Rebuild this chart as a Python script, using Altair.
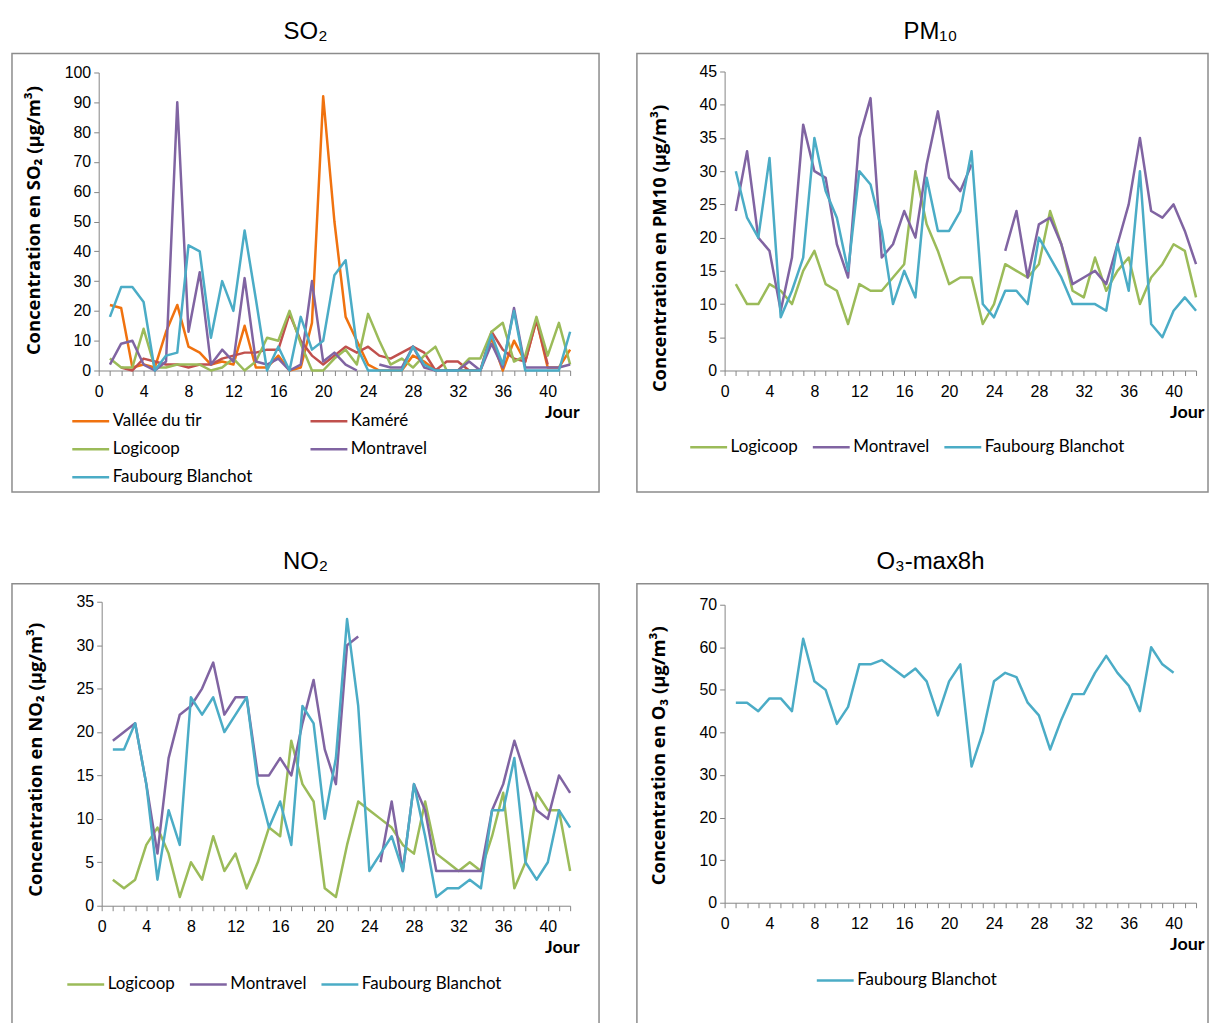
import altair as alt
import pandas as pd

days = list(range(1, 43))

# ---------------- SO2 ----------------
so2_stations = ["Vallée du tir", "Kaméré", "Logicoop", "Montravel", "Faubourg Blanchot"]
so2_vallee = [22, 21, 1, 2, 1, 13, 22, 8, 6, 2, 3, 2, 15, 1, 1, 5, 0, 1, 16, 92, 50, 18, 10, 2, 0,
              0, 0, 5, 3, 0, 0, 0, 0, 0, 11, 0, 10, 3, 17, 1, 1, 7]
so2_kamere = [None, 1, 0, 4, 3, 2, 2, 1, 2, 2, 4, 5, 6, 6, 7, 7, 19, 10, 5, 2, 5, 8, 6, 8, 5,
              4, 6, 8, 6, 0, 3, 3, 0, 0, 13, 7, 4, 3, 17, 2, None, None]
so2_logicoop = [4, 1, 1, 14, 1, 1, 2, 2, 2, 0, 1, 4, 0, 3, 11, 10, 20, 9, 0, 0, 4, 7, 2, 19, 10,
                2, 4, 1, 5, 8, 0, 0, 4, 4, 13, 16, 3, 5, 18, 5, 16, 2]
so2_montravel = [2, 9, 10, 2, 0, 3, 90, 13, 33, 2, 7, 3, 31, 3, 2, 4, 0, 2, 30, 3, 6, 2, 0, None, 2,
                 1, 1, 8, 1, 0, 0, 0, 3, 0, 9, 1, 21, 1, 1, 1, 1, 2]
so2_blanchot = [18, 28, 28, 23, 0, 5, 6, 42, 40, 11, 30, 20, 47, 24, 0, 8, 0, 18, 7, 10, 32, 37, 8, 0, 0,
                0, 0, 8, 2, 0, 0, 0, 0, 0, 12, 2, 20, 0, 0, 0, 0, 13]
# legend order (legend grid fills column by column)
so2_legend_order = ["Vallée du tir", "Logicoop", "Faubourg Blanchot", "Kaméré", "Montravel"]

# ---------------- PM10 ----------------
pm_stations = ["Logicoop", "Montravel", "Faubourg Blanchot"]
pm_logicoop = [13, 10, 10, 13, 12, 10, 15, 18, 13, 12, 7, 13, 12, 12, 14, 16, 30, 22, 18, 13, 14, 14, 7, 10, 16,
               15, 14, 16, 24, 19, 12, 11, 17, 12, 15, 17, 10, 14, 16, 19, 18, 11]
pm_montravel = [24, 33, 20, 18, 9, 17, 37, 30, 29, 19, 14, 35, 41, 17, 19, 24, 20, 31, 39, 29, 27, 31, None, None, 18,
                24, 14, 22, 23, 19, 13, 14, 15, 13, 19, 25, 35, 24, 23, 25, 21, 16]
pm_blanchot = [30, 23, 20, 32, 8, 12, 17, 35, 27, 23, 15, 30, 28, 21, 10, 15, 11, 29, 21, 21, 24, 33, 10, 8, 12,
               12, 10, 20, 17, 14, 10, 10, 10, 9, 19, 12, 30, 7, 5, 9, 11, 9]

# ---------------- NO2 ----------------
no2_stations = ["Logicoop", "Montravel", "Faubourg Blanchot"]
no2_logicoop = [3, 2, 3, 7, 9, 6, 1, 5, 3, 8, 4, 6, 2, 5, 9, 8, 19, 14, 12, 2, 1, 7, 12, 11, 10,
                9, 7, 6, 12, 6, 5, 4, 5, 4, 8, 13, 2, 5, 13, 11, 11, 4]
no2_montravel = [19, 20, 21, 14, 6, 17, 22, 23, 25, 28, 22, 24, 24, 15, 15, 17, 15, 21, 26, 18, 14, 30, 31, None, 5,
                 12, 4, 14, 11, 4, 4, 4, 4, 4, 11, 14, 19, 15, 11, 10, 15, 13]
no2_blanchot = [18, 18, 21, 14, 3, 11, 7, 24, 22, 24, 20, 22, 24, 14, 9, 12, 7, 23, 21, 10, 17, 33, 23, 4, 6,
                8, 4, 14, 8, 1, 2, 2, 3, 2, 11, 11, 17, 5, 3, 5, 11, 9]

# ---------------- O3 ----------------
o3_stations = ["Faubourg Blanchot"]
o3_blanchot = [47, 47, 45, 48, 48, 45, 62, 52, 50, 42, 46, 56, 56, 57, 55, 53, 55, 52, 44, 52, 56, 32, 40, 52, 54,
               53, 47, 44, 36, 43, 49, 49, 54, 58, 54, 51, 45, 60, 56, 54, None, None]

station_colors = {
    "Vallée du tir": "#F0720F",
    "Kaméré": "#C0504D",
    "Logicoop": "#9BBB59",
    "Montravel": "#8064A2",
    "Faubourg Blanchot": "#4BACC6",
}

BOX_W = 589
BOX_W2 = 573
BOX_H = 440
BOX_H2 = 452


def long_df(series):
    rows = []
    for name, vals in series.items():
        seg = 0
        for d, v in zip(days, vals):
            if v is None:
                seg += 1
                continue
            rows.append({"Jour": d, "val": v, "station": name, "seg": f"{name}-{seg}"})
    return pd.DataFrame(rows)


def panel(df, stations, title, ytitle, ymax, ystep, xr, yr, ytx, yty,
          leg_x, leg_y, leg_cols, leg_colpad, jour_x=569, width=BOX_W, height=BOX_H, title_dx=0):
    return alt.Chart(df).mark_line(strokeWidth=2.5, strokeJoin="round").encode(
        x=alt.X("Jour:Q",
                scale=alt.Scale(domain=[0, 42], range=xr, nice=False, zero=False),
                axis=alt.Axis(values=list(range(0, 43)), grid=False,
                              labelExpr="datum.value % 4 == 0 ? datum.label : ''",
                              labelOverlap=False, labelFlush=False, labelPadding=8,
                              offset=yr[0] - height,
                              title="Jour", titleX=jour_x, titleY=42, titleAlign="right",
                              titleBaseline="middle", titleFont="Lato", titleFontSize=18,
                              titleFontWeight="bold")),
        y=alt.Y("val:Q",
                scale=alt.Scale(domain=[0, ymax], range=yr, nice=False, zero=True),
                axis=alt.Axis(values=list(range(0, ymax + 1, ystep)), grid=False,
                              labelPadding=3, offset=-xr[0],
                              title=ytitle, titleX=ytx, titleY=yty, titleAngle=-90,
                              titleAlign="center", titleBaseline="middle",
                              titleFont="Open Sans", titleFontSize=18.5, titleFontWeight="bold")),
        color=alt.Color("station:N",
                        scale=alt.Scale(domain=stations,
                                        range=[station_colors[s] for s in stations]),
                        legend=alt.Legend(orient="none", legendX=leg_x, legendY=leg_y,
                                          columns=leg_cols, columnPadding=leg_colpad,
                                          rowPadding=-1.5, title=None, padding=0,
                                          symbolType="stroke", symbolSize=1369,
                                          symbolStrokeWidth=2.5, labelOffset=2,
                                          labelFont="Lato", labelFontSize=17,
                                          labelColor="#000", gridAlign="each")),
        detail="seg:N",
    ).properties(
        width=width, height=height,
        title=alt.TitleParams(title, fontSize=24, font="Liberation Sans", fontWeight="normal",
                              color="#000", anchor="middle", baseline="alphabetic", offset=-9,
                              dx=title_dx),
    )


so2_df = long_df(dict(zip(so2_stations, [so2_vallee, so2_kamere, so2_logicoop, so2_montravel, so2_blanchot])))
pm_df = long_df(dict(zip(pm_stations, [pm_logicoop, pm_montravel, pm_blanchot])))
no2_df = long_df(dict(zip(no2_stations, [no2_logicoop, no2_montravel, no2_blanchot])))
o3_df = long_df(dict(zip(o3_stations, [o3_blanchot])))

so2 = panel(so2_df, so2_legend_order, "SO₂", "Concentration en SO₂ (µg/m³)", 100, 10,
            [87, 560], [318, 19], -65, 167, 59, 349, 2, 52)
pm10 = panel(pm_df, pm_stations, "PM₁₀", "Concentration en PM10 (µg/m³)", 45, 5,
             [88, 561], [318, 18], -65, 195, 52, 375, 3, 9, width=BOX_W2, title_dx=8)
no2 = panel(no2_df, no2_stations, "NO₂", "Concentration en NO₂ (µg/m³)", 35, 5,
            [90, 560], [323, 18], -66, 176, 54, 382, 3, 9, height=BOX_H2)
o3 = panel(o3_df, o3_stations, "O₃-max8h", "Concentration en O₃ (µg/m³)", 70, 10,
           [88, 561], [320, 21], -66, 172, 179, 378, 1, 9, width=BOX_W2, height=BOX_H2, title_dx=8)


def res(c):
    return c.resolve_scale(x="independent", y="independent", color="independent").resolve_legend(
        color="independent").resolve_axis(x="independent", y="independent")


row1 = res(alt.hconcat(so2, pm10, spacing=36))
row2 = res(alt.hconcat(no2, o3, spacing=36))
chart = res(alt.vconcat(row1, row2, spacing=56)).properties(
    padding={"left": 3, "top": 9, "right": 0, "bottom": 0},
    background="white",
).configure_view(
    stroke="#8c8c8c", strokeWidth=1.5
).configure_axis(
    grid=False, domainColor="#868686", tickColor="#868686", domainWidth=1, tickWidth=1,
    tickSize=5, labelColor="#000", labelFont="Liberation Sans", labelFontSize=16,
    titleColor="#000"
)

chart.save("out.html", embed_options={"renderer": "svg", "actions": False})
